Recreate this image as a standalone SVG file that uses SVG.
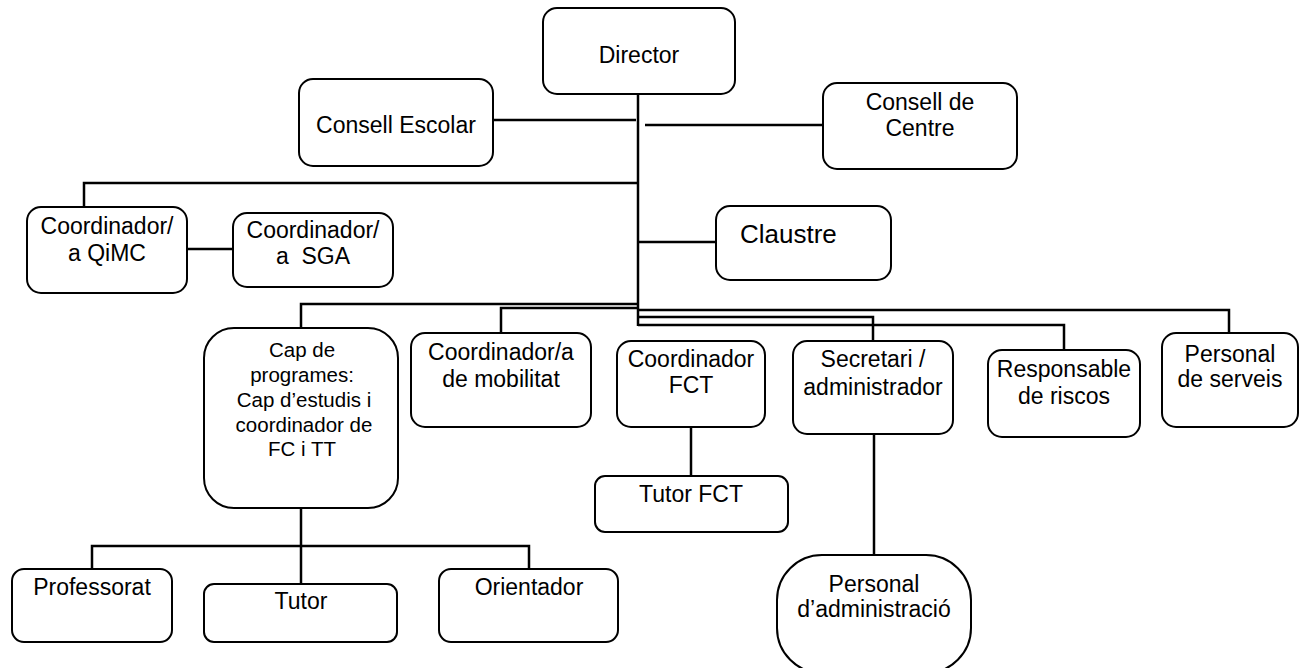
<svg xmlns="http://www.w3.org/2000/svg" width="1306" height="668" viewBox="0 0 1306 668">
<style>
.box{fill:#fff;stroke:#000;stroke-width:2}
.t{font-family:"Liberation Sans",Arial,sans-serif;font-size:23px;fill:#000;text-anchor:middle}
.s{font-size:20.5px}
.c{fill:none;stroke:#000;stroke-width:2.5}
</style>
<rect width="1306" height="668" fill="#fff"/>
<g id="connectors">
<path class="c" d="M638 94V326" stroke-width="3.5"/>
<path class="c" d="M493 120H636M645 125H823"/>
<path class="c" d="M638 183H84V207"/>
<path class="c" d="M187 249H233"/>
<path class="c" d="M638 242H716"/>
<path class="c" d="M638 304H301V328"/>
<path class="c" d="M638 308H501V333"/>
<path class="c" d="M638 310H1229V333"/>
<path class="c" d="M638 317H873V341"/>
<path class="c" d="M638 325H1064V350"/>
<path class="c" d="M691 427V476"/>
<path class="c" d="M874 434V555"/>
<path class="c" d="M301 508V584"/>
<path class="c" d="M92 569V546H529V569"/>
</g>
<g id="director"><rect class="box" x="543" y="8" width="192" height="86" rx="14"/><text class="t" x="639" y="63">Director</text></g>
<g id="consell-escolar"><rect class="box" x="299" y="79" width="194" height="87" rx="14"/><text class="t" x="396" y="133">Consell Escolar</text></g>
<g id="consell-centre"><rect class="box" x="823" y="83" width="194" height="86" rx="14"/><text class="t" x="920" y="110">Consell de</text><text class="t" x="920" y="136">Centre</text></g>
<g id="qimc"><rect class="box" x="27" y="207" width="160" height="86" rx="14"/><text class="t" x="107" y="234">Coordinador/</text><text class="t" x="107" y="261">a QiMC</text></g>
<g id="sga"><rect class="box" x="233" y="213" width="160" height="74" rx="14"/><text class="t" x="313" y="238">Coordinador/</text><text class="t" x="313" y="264" xml:space="preserve">a  SGA</text></g>
<g id="claustre"><rect class="box" x="716" y="206" width="175" height="74" rx="14"/><text class="t" x="740" y="243" style="text-anchor:start;font-size:26px">Claustre</text></g>
<g id="cap-programes"><rect class="box" x="204" y="328" width="194" height="180" rx="30"/>
<text class="t s" x="302" y="357">Cap de</text><text class="t s" x="302" y="382">programes:</text><text class="t s" x="304" y="407">Cap d’estudis i</text><text class="t s" x="304" y="432">coordinador de</text><text class="t s" x="302" y="456">FC i TT</text></g>
<g id="mobilitat"><rect class="box" x="411" y="333" width="180" height="94" rx="14"/><text class="t" x="501" y="360">Coordinador/a</text><text class="t" x="501" y="387">de mobilitat</text></g>
<g id="coord-fct"><rect class="box" x="617" y="341" width="148" height="86" rx="14"/><text class="t" x="691" y="367">Coordinador</text><text class="t" x="691" y="393">FCT</text></g>
<g id="tutor-fct"><rect class="box" x="595" y="476" width="193" height="56" rx="10"/><text class="t" x="691" y="502">Tutor FCT</text></g>
<g id="secretari"><rect class="box" x="793" y="341" width="160" height="93" rx="14"/><text class="t" x="873" y="367">Secretari /</text><text class="t" x="873" y="395">administrador</text></g>
<g id="responsable"><rect class="box" x="988" y="350" width="152" height="87" rx="14"/><text class="t" x="1064" y="377">Responsable</text><text class="t" x="1064" y="404">de riscos</text></g>
<g id="serveis"><rect class="box" x="1162" y="333" width="136" height="94" rx="14"/><text class="t" x="1230" y="362">Personal</text><text class="t" x="1230" y="387">de serveis</text></g>
<g id="personal-adm"><rect class="box" x="777" y="555" width="194" height="118" rx="45"/><text class="t" x="874" y="592">Personal</text><text class="t" x="874" y="617">d’administració</text></g>
<g id="professorat"><rect class="box" x="12" y="569" width="160" height="73" rx="12"/><text class="t" x="92" y="595">Professorat</text></g>
<g id="tutor"><rect class="box" x="204" y="584" width="193" height="58" rx="10"/><text class="t" x="301" y="609">Tutor</text></g>
<g id="orientador"><rect class="box" x="439" y="569" width="179" height="73" rx="12"/><text class="t" x="529" y="595">Orientador</text></g>
</svg>
